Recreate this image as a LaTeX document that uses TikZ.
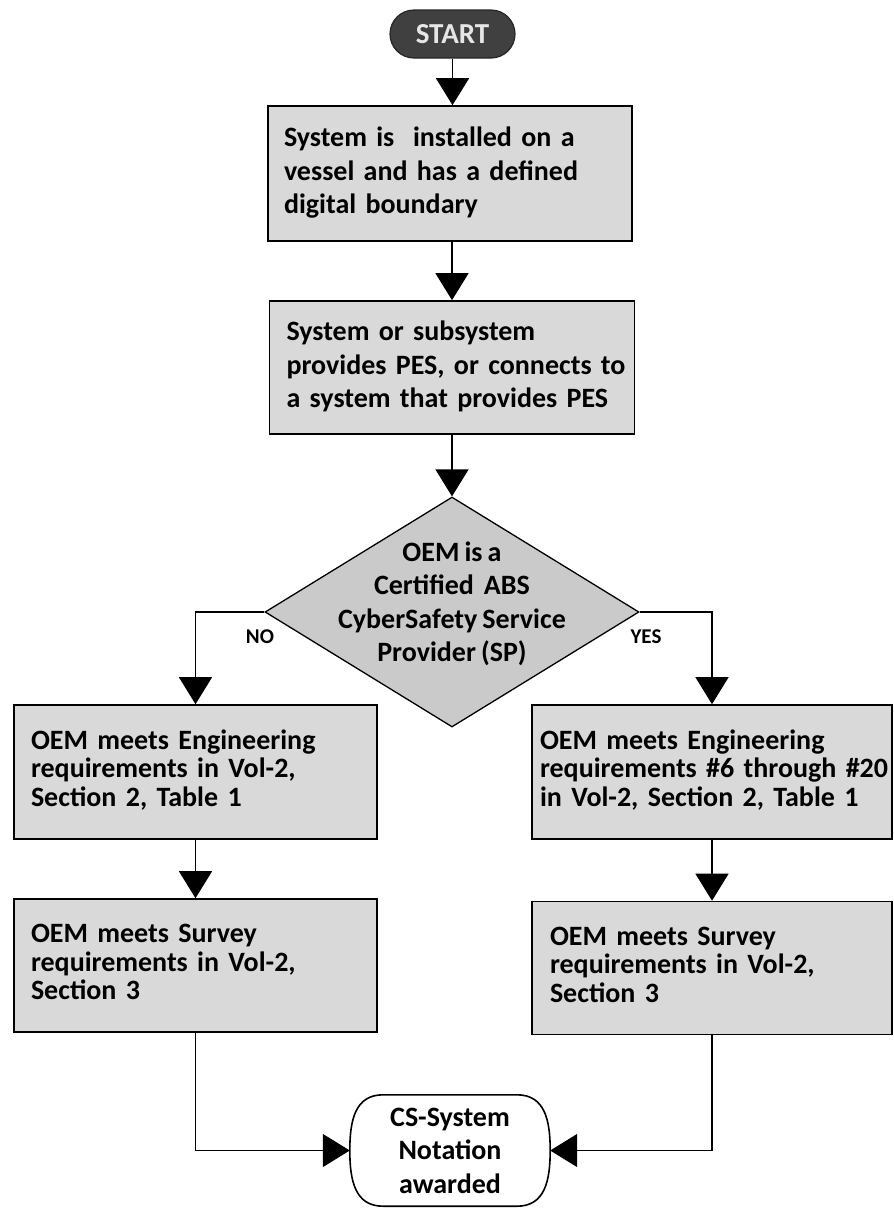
\documentclass[tikz,border=0pt]{standalone}
\usepackage{fontspec}
\setmainfont{Carlito}[WordSpace=0.8]
\usetikzlibrary{arrows.meta,shapes.geometric,calc}
\definecolor{boxgray}{HTML}{D9D9D9}
\definecolor{diagray}{HTML}{CACACA}
\definecolor{startgray}{HTML}{404040}
\definecolor{starttext}{HTML}{E6E6E6}
\newcommand{\lines}[1]{\begin{tabular}{@{}l@{}}#1\end{tabular}}
\begin{document}
\begin{tikzpicture}[x=1pt,y=-1pt,
  boxfont/.style={font=\bfseries\fontsize{28}{33.5}\selectfont},
  lowfont/.style={font=\bfseries\fontsize{28}{28.5}\selectfont},
  box/.style={draw=black, line width=1.6pt, fill=boxgray, rectangle, align=left, inner ysep=0pt},
  conn/.style={line width=1.3pt, -{Triangle[width=33pt,length=27pt]}},
  lbl/.style={font=\bfseries\fontsize{21}{21}\selectfont}]
\useasboundingbox (0,0) rectangle (894,1208);

% start
\node[draw=black!85, line width=1.2pt, fill=startgray, text=starttext, rounded corners=24pt,
      minimum width=125pt, minimum height=48pt, inner sep=0pt,
      font=\bfseries\fontsize{29}{29}\selectfont] (start) at (452.5,34) {START};

% main column
\node[box, boxfont, minimum width=364pt, minimum height=135pt, text width=332pt, inner xsep=16pt]
  (b1) at (450,173.5) {\lines{System is\ \ installed on a\\vessel and has a defined\\digital boundary}};
\node[box, boxfont, minimum width=365pt, minimum height=133pt, text width=331pt, inner xsep=17pt]
  (b2) at (452,367.5) {\lines{System or subsystem\\provides PES, or connects to\\a system that provides PES}};

% decision
\node[diamond, draw=black, line width=1.3pt, fill=diagray, minimum width=374pt, minimum height=230pt, inner sep=0pt,
      label={[boxfont, align=center, yshift=8pt]center:OEM is a\\Certified\ \ ABS\\CyberSafety Service\\Provider (SP)}]
  (d) at (452,612) {};

% branches
\node[box, lowfont, minimum width=363pt, minimum height=134pt, text width=329pt, inner xsep=17pt]
  (l1) at (195.5,772) {\lines{OEM meets Engineering\\requirements in Vol-2,\\Section 2, Table 1}};
\node[box, lowfont, minimum width=363pt, minimum height=133pt, text width=329pt, inner xsep=17pt]
  (l2) at (195.5,965.5) {\lines{OEM meets Survey\\requirements in Vol-2,\\Section 3}};
\node[box, lowfont, minimum width=360pt, minimum height=134pt, text width=344pt, inner xsep=8pt]
  (r1) at (712,772) {\lines{OEM meets Engineering\\requirements \#6 through \#20\\in Vol-2, Section 2, Table 1}};
\node[box, lowfont, minimum width=360pt, minimum height=133pt, text width=324pt, inner xsep=18pt]
  (r2) at (712,968) {\lines{OEM meets Survey\\requirements in Vol-2,\\Section 3}};

% end
\node[boxfont, align=center, minimum width=200pt, minimum height=111pt, inner sep=0pt] (end) at (450,1150.5) {};
\draw[line width=1.6pt, fill=white]
  ($(end.north)+(-67,0)$) -- ($(end.north)+(67,0)$)
  .. controls +(28,0) and +(0,-30) .. (end.east)
  .. controls +(0,30) and +(28,0) .. ($(end.south)+(67,0)$)
  -- ($(end.south)+(-67,0)$)
  .. controls +(-28,0) and +(0,30) .. (end.west)
  .. controls +(0,-30) and +(-28,0) .. cycle;
\node[boxfont, align=center] (endtext) at (end.center) {CS-System\\Notation\\awarded};

% connectors
\draw[conn] (start.south) -- (start.south |- b1.north);
\draw[conn] (b1.south -| b2.north) -- (b2.north);
\draw[conn] (b2.south) -- (d.north);
\draw[conn] (d.west) -| (l1.north);
\draw[conn] (d.east) -| (r1.north);
\draw[conn] (l1.south) -- (l2.north);
\draw[conn] (r1.south) -- (r2.north);
\draw[conn] (l2.south) |- (end.west);
\draw[conn] (r2.south) |- (end.east);

% labels
\node[lbl] (no) at (260,637) {NO};
\node[lbl] (yes) at (646,637) {YES};
\end{tikzpicture}
\end{document}
